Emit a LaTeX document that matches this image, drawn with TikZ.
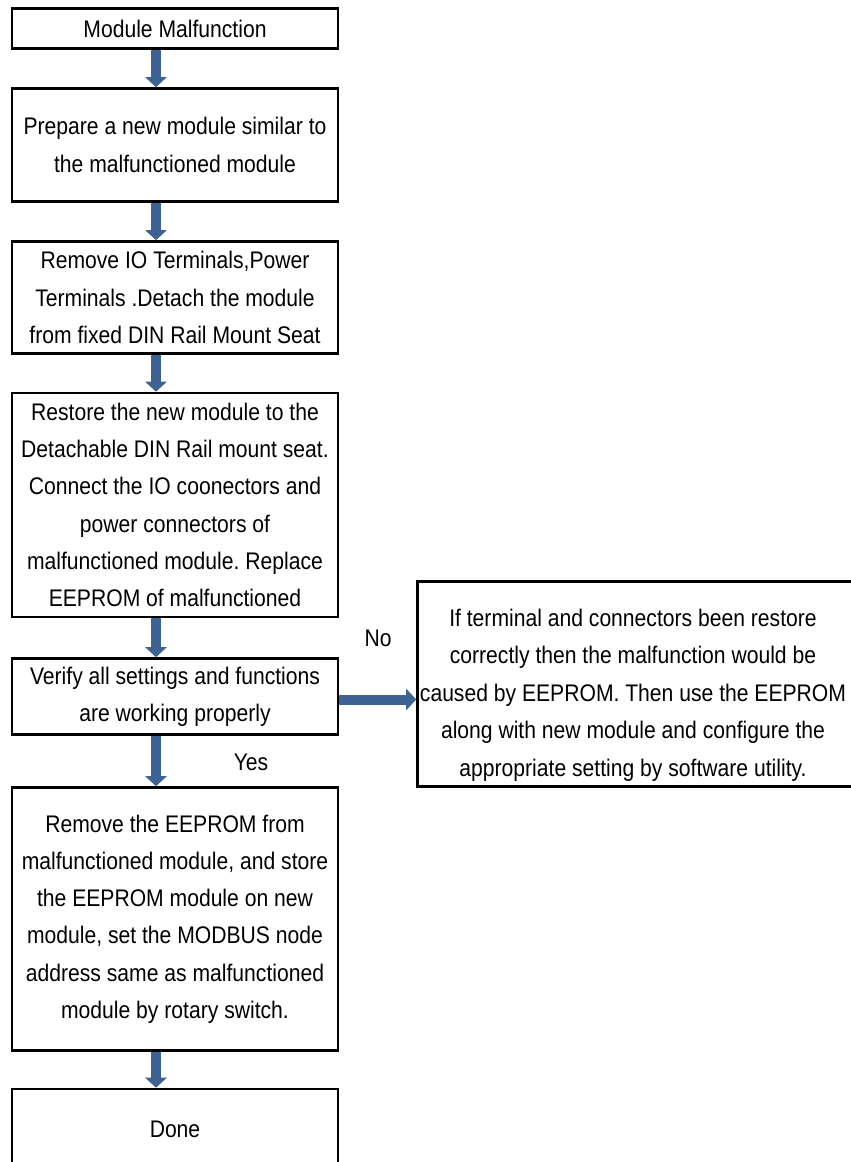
\documentclass[tikz,border=0pt]{standalone}
\usepackage{fontspec}
\setmainfont{Liberation Sans}[FakeStretch=0.88]
\usetikzlibrary{arrows.meta}
\definecolor{arrowblue}{RGB}{62,98,145}
\frenchspacing
\tikzset{
  box/.style={draw=black, line width=2.6pt, rectangle, minimum width=326pt, align=center, inner sep=0pt,
    font=\fontsize{24}{37.2}\selectfont},
  flow/.style={draw=arrowblue, line width=10pt, -{Triangle[width=21pt,length=10pt]}},
  lbl/.style={font=\fontsize{24}{28}\selectfont, inner sep=0pt}
}
\begin{document}
\begin{tikzpicture}[x=1pt,y=-1pt]
\useasboundingbox[fill=white] (0,0) rectangle (851,1162);
\node[box, minimum height=40pt] (b1) at (175,28.5) {Module Malfunction};
\node[box, minimum height=113pt] (b2) at (175,145) {Prepare a new module similar to\\the malfunctioned module};
\node[box, minimum height=112pt] (b3) at (175,297.5) {Remove IO Terminals,Power\\Terminals .Detach the module\\from fixed DIN Rail Mount Seat};
\node[box, minimum height=224pt] (b4) at (175,505) {Restore the new module to the\\Detachable DIN Rail mount seat.\\Connect the IO coonectors and\\power connectors of\\malfunctioned module. Replace\\EEPROM of malfunctioned};
\node[box, minimum height=76pt] (b5) at (175,696.5) {Verify all settings and functions\\are working properly};
\node[box, minimum height=263pt] (b6) at (175,919) {Remove the EEPROM from\\malfunctioned module, and store\\the EEPROM module on new\\module, set the MODBUS node\\address same as malfunctioned\\module by rotary switch.};
\node[box, minimum height=80pt] (b7) at (175,1129) {Done};
\node[box, minimum width=436pt, minimum height=205pt] (r) at (635.5,684) {};
\node[align=center, inner sep=0pt, font=\fontsize{24}{37.5}\selectfont] (rt) at (633,695) {If terminal and connectors been restore\\correctly then the malfunction would be\\caused by EEPROM. Then use the EEPROM\\along with new module and configure the\\appropriate setting by software utility.};
\node[lbl] (no) at (378,638) {No};
\node[lbl] (yes) at (251,762) {Yes};
\draw[flow] ([xshift=-19pt]b1.south) -- ([xshift=-19pt]b2.north);
\draw[flow] ([xshift=-19pt]b2.south) -- ([xshift=-19pt]b3.north);
\draw[flow] ([xshift=-19pt]b3.south) -- ([xshift=-19pt]b4.north);
\draw[flow] ([xshift=-19pt]b4.south) -- ([xshift=-19pt]b5.north);
\draw[flow] ([xshift=-19pt]b5.south) -- ([xshift=-19pt]b6.north);
\draw[flow] ([xshift=-19pt]b6.south) -- ([xshift=-19pt]b7.north);
\draw[flow] ([yshift=-3pt]b5.east) -- ([yshift=-3pt]b5.east -| r.west);
\end{tikzpicture}
\end{document}
